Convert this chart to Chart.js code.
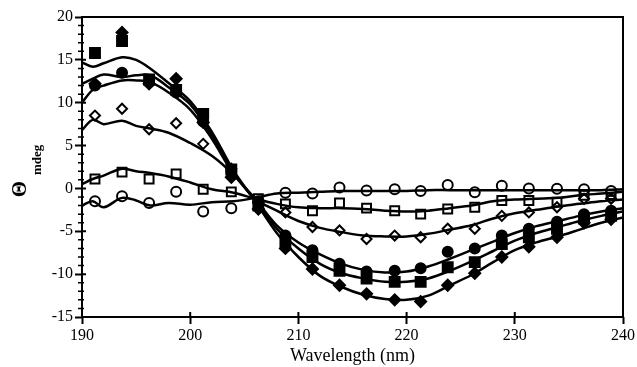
<!DOCTYPE html>
<html>
<head>
<meta charset="utf-8">
<script src="https://cdn.jsdelivr.net/npm/chart.js@4.4.0/dist/chart.umd.min.js"></script>
<style>
  html, body { margin: 0; padding: 0; background: #fff; }
  #wrap { width: 637px; height: 367px; }
</style>
</head>
<body>
<div id="wrap"><canvas id="cd-chart" width="637" height="367"></canvas></div>
<script>
var curveWl = [190, 191, 192, 193.7, 195, 196.3, 198, 200, 202, 204, 206, 208, 210, 212, 214, 216, 218, 220, 222, 224, 226, 228, 230, 232, 234, 236, 238, 240];
// fitted curves (mdeg)
var curveDiamond = [14.7, 14.2, 14.6, 15.3, 15.0, 14.0, 12.3, 10.2, 6.6, 2.1, -1.5, -5.2, -8.0, -10.2, -11.5, -12.4, -12.9, -13.0, -12.5, -11.3, -10.1, -8.6, -7.2, -6.3, -5.6, -4.8, -4.0, -3.4];
var curveSquare = [12.2, 12.8, 13.3, 13.0, 13.2, 13.2, 11.8, 9.8, 6.2, 1.9, -1.4, -4.7, -7.0, -8.8, -9.9, -10.5, -10.9, -10.9, -10.5, -9.6, -8.5, -7.3, -6.1, -5.2, -4.5, -3.8, -3.2, -2.7];
var curveCircle = [10.0, 11.5, 12.0, 12.6, 12.6, 12.4, 11.2, 9.2, 5.8, 1.7, -1.2, -4.3, -6.3, -7.7, -8.8, -9.5, -9.8, -9.7, -9.1, -8.2, -7.2, -6.2, -5.2, -4.4, -3.8, -3.2, -2.7, -2.3];
var curveOpenDiamond = [6.8, 8.0, 7.5, 7.9, 7.3, 7.0, 6.5, 5.3, 3.8, 1.6, -1.2, -2.6, -3.8, -4.6, -5.1, -5.5, -5.6, -5.6, -5.3, -4.8, -4.3, -3.5, -2.9, -2.5, -2.1, -1.8, -1.5, -1.3];
var curveOpenSquare = [0.5, 1.1, 1.5, 2.3, 2.0, 1.8, 1.4, 0.7, -0.1, -0.5, -1.2, -1.8, -2.2, -2.3, -2.3, -2.4, -2.6, -2.7, -2.6, -2.3, -2.0, -1.5, -1.3, -1.2, -1.1, -0.8, -0.6, -0.4];
var curveOpenCircle = [-2.0, -1.5, -2.2, -1.1, -1.4, -2.0, -1.7, -1.9, -1.6, -1.5, -1.1, -0.6, -0.5, -0.4, -0.3, -0.3, -0.3, -0.3, -0.2, -0.2, -0.2, -0.2, -0.2, -0.2, -0.2, -0.2, -0.2, -0.1];

// measured points
var pointWl = [191.2, 193.7, 196.2, 198.7, 201.2, 203.8, 206.3, 208.8, 211.3, 213.8, 216.3, 218.9, 221.3, 223.8, 226.3, 228.8, 231.3, 233.9, 236.4, 238.9];
var ptSquare = [15.8, 17.2, 12.7, 11.5, 8.7, 2.2, -2.0, -6.2, -8.0, -9.6, -10.5, -10.9, -10.9, -9.2, -8.6, -6.5, -5.7, -4.7, -3.5, -3.2];
var ptCircle = [12.0, 13.5, 12.4, 11.2, 7.8, 2.0, -1.6, -5.5, -7.2, -8.8, -9.7, -9.6, -9.3, -7.4, -7.0, -5.5, -4.7, -3.9, -3.0, -2.6];
var ptDiamond = [12.2, 18.2, 12.2, 12.8, 7.7, 1.3, -2.4, -7.0, -9.4, -11.3, -12.3, -13.0, -13.2, -11.3, -9.9, -8.0, -6.8, -5.7, -4.0, -3.6];
var ptOpenDiamond = [8.5, 9.3, 6.9, 7.6, 5.2, 2.3, -1.6, -2.8, -4.5, -4.9, -5.9, -5.5, -5.7, -4.7, -4.7, -3.2, -2.8, -2.2, -1.2, -1.2];
var ptOpenSquare = [1.1, 1.9, 1.1, 1.7, -0.1, -0.4, -1.2, -1.8, -2.6, -1.7, -2.3, -2.6, -3.0, -2.4, -2.2, -1.4, -1.4, -1.6, -0.8, -0.7];
var ptOpenCircle = [-1.5, -0.9, -1.7, -0.4, -2.7, -2.3, -1.5, -0.5, -0.6, 0.1, -0.25, -0.1, -0.3, 0.4, -0.45, 0.3, 0.0, -0.05, -0.1, -0.3];

var yTicks = [20, 15, 10, 5, 0, -5, -10, -15];
var xTicks = [190, 200, 210, 220, 230, 240];

function xy(xs, ys) {
    return xs.map(function (x, i) { return { x: x, y: ys[i] }; });
}

function curve(ys) {
    return {
        type: 'line',
        data: xy(curveWl, ys),
        borderColor: '#000',
        borderWidth: 2.5,
        pointRadius: 0,
        tension: 0.35,
        fill: false
    };
}

function marks(ys, style, filled, r) {
    return {
        type: 'scatter',
        data: xy(pointWl, ys),
        showLine: false,
        pointStyle: style,
        pointRadius: r,
        pointBorderWidth: 2,
        pointBorderColor: '#000',
        pointBackgroundColor: filled ? '#000' : 'rgba(255,255,255,0)'
    };
}

var serif = '"Liberation Serif", "DejaVu Serif", serif';

// frame, inner tick halves, minor ticks and the Θmdeg axis title
var decor = {
    id: 'decor',
    afterDraw: function (chart) {
        var ctx = chart.ctx, a = chart.chartArea, ys = chart.scales.y, xs = chart.scales.x;
        ctx.save();
        ctx.strokeStyle = '#000';
        ctx.lineWidth = 2;
        ctx.strokeRect(a.left, a.top, a.right - a.left, a.bottom - a.top);
        ctx.beginPath();
        xTicks.forEach(function (v) {
            var px = xs.getPixelForValue(v);
            ctx.moveTo(px, a.bottom);
            ctx.lineTo(px, a.bottom - 5);
        });
        yTicks.forEach(function (v) {
            var py = ys.getPixelForValue(v);
            ctx.moveTo(a.left, py);
            ctx.lineTo(a.left + 4, py);
        });
        ctx.stroke();
        ctx.lineWidth = 1.5;
        ctx.beginPath();
        for (var v = -15; v <= 20; v++) {
            if (v % 5 === 0) continue;
            var py = ys.getPixelForValue(v);
            ctx.moveTo(a.left - 4, py);
            ctx.lineTo(a.left + 2, py);
        }
        ctx.stroke();
        ctx.translate(21, 189);
        ctx.rotate(-Math.PI / 2);
        ctx.fillStyle = '#000';
        ctx.textBaseline = 'middle';
        ctx.textAlign = 'center';
        ctx.font = 'bold 21px ' + serif;
        ctx.fillText('\u0398', 0, 0);
        ctx.textAlign = 'left';
        ctx.font = 'bold 13px ' + serif;
        ctx.fillText('mdeg', 14, 17);
        ctx.restore();
    }
};

new Chart(document.getElementById('cd-chart'), {
    data: {
        datasets: [
            curve(curveDiamond), curve(curveSquare), curve(curveCircle),
            curve(curveOpenDiamond), curve(curveOpenSquare), curve(curveOpenCircle),
            marks(ptSquare, 'rect', true, 7),
            marks(ptCircle, 'circle', true, 5),
            marks(ptDiamond, 'rectRot', true, 5.5),
            marks(ptOpenDiamond, 'rectRot', false, 5),
            marks(ptOpenSquare, 'rect', false, 6.3),
            marks(ptOpenCircle, 'circle', false, 5)
        ]
    },
    options: {
        responsive: false,
        animation: false,
        layout: { padding: { top: 17, right: 14, bottom: 0, left: 0 } },
        plugins: {
            legend: { display: false },
            title: { display: false },
            tooltip: { enabled: false }
        },
        scales: {
            x: {
                type: 'linear',
                min: 190,
                max: 240,
                afterFit: function (s) { s.height = 50; },
                afterBuildTicks: function (s) { s.ticks = xTicks.map(function (v) { return { value: v }; }); },
                border: { display: false },
                grid: { drawOnChartArea: false, tickLength: 7, tickColor: '#000', tickWidth: 2 },
                ticks: { color: '#000', font: { family: serif, size: 16 }, padding: 2 },
                title: { display: true, text: 'Wavelength (nm)', color: '#000', font: { family: serif, size: 18 }, padding: { top: 0, bottom: 0 } }
            },
            y: {
                type: 'linear',
                min: -15,
                max: 20,
                afterFit: function (s) { s.width = 82; },
                afterBuildTicks: function (s) { s.ticks = yTicks.map(function (v) { return { value: v }; }); },
                border: { display: false },
                grid: { drawOnChartArea: false, tickLength: 7, tickColor: '#000', tickWidth: 2 },
                ticks: { color: '#000', font: { family: serif, size: 16 }, padding: 2 }
            }
        }
    },
    plugins: [decor]
});
</script>
</body>
</html>
